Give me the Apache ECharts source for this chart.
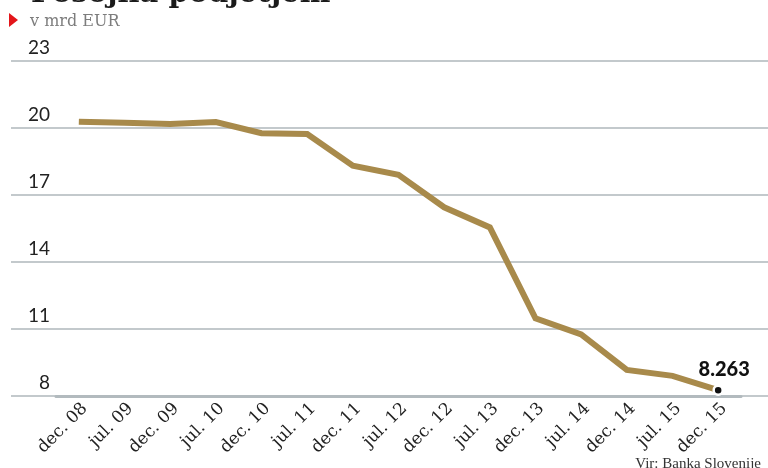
<!DOCTYPE html>
<html>
<head>
<meta charset="utf-8">
<script src="https://cdn.jsdelivr.net/npm/echarts@6/dist/echarts.min.js"></script>
<style>
html,body{margin:0;padding:0;background:#fff;}
#c{width:768px;height:468px;}
</style>
</head>
<body>
<div id="c"></div>
<script>
const categories = ['dec. 08','jul. 09','dec. 09','jul. 10','dec. 10','jul. 11','dec. 11','jul. 12','dec. 12','jul. 13','dec. 13','jul. 14','dec. 14','jul. 15','dec. 15'];
const loans = [20.28, 20.23, 20.18, 20.27, 19.77, 19.73, 18.31, 17.9, 16.45, 15.55, 11.48, 10.76, 9.17, 8.9, 8.263];
const yMin = 8, yMax = 23, yStep = 3;
const titleText = 'Posojila podjetjem';
const subtitleText = 'v mrd EUR';
const sourceText = 'Vir: Banka Slovenije';

const lastIdx = loans.length - 1;
const endPoint = loans.map((v, i) => i === lastIdx ? v : null);

const chart = echarts.init(document.getElementById('c'), null, {renderer: 'canvas'});
chart.setOption({
  animation: false,
  backgroundColor: '#ffffff',
  title: [
    {text: titleText, left: 26, top: -25,
     textStyle: {fontFamily: 'DejaVu Serif', fontWeight: 'bold', fontSize: 29, color: '#1a1a1a'}},
    {text: subtitleText, left: 25, top: 9,
     textStyle: {fontFamily: 'DejaVu Serif', fontWeight: 'normal', fontSize: 16, color: '#7d7d7d'}},
    {text: sourceText, right: 2, top: 452,
     textStyle: {fontFamily: 'Liberation Serif', fontWeight: 'normal', fontSize: 15, color: '#333'}}
  ],
  graphic: [
    {type: 'polygon', shape: {points: [[9, 13], [9, 27], [18, 20]]}, style: {fill: '#e3151a'}}
  ],
  grid: [
    {left: 11, right: 0, top: 61, bottom: 72},
    {left: 56, right: 27, top: 61, bottom: 72}
  ],
  xAxis: [
    {gridIndex: 0, type: 'value', show: false, min: 0, max: 1},
    {gridIndex: 1, type: 'category', data: categories, boundaryGap: true,
     axisLine: {lineStyle: {color: '#b2babe', width: 3}},
     axisTick: {inside: true, alignWithLabel: true, length: 7, lineStyle: {color: '#b2babe', width: 1.5}},
     axisLabel: {rotate: 45, margin: 4, interval: 0, verticalAlign: 'top',
                 fontFamily: 'DejaVu Serif', fontSize: 17, color: '#222'},
     splitLine: {show: false}}
  ],
  yAxis: [
    {gridIndex: 0, type: 'value', min: yMin, max: yMax, interval: yStep,
     axisLine: {show: false}, axisTick: {show: false},
     axisLabel: {inside: true, align: 'right', verticalAlign: 'bottom', margin: 39, padding: [0, 0, 4, 0],
                 fontFamily: 'Lato', fontSize: 19, color: '#222'},
     splitLine: {lineStyle: {color: '#c3c9cc', width: 2}}},
    {gridIndex: 1, type: 'value', min: yMin, max: yMax, interval: yStep, show: false}
  ],
  series: [
    {type: 'line', xAxisIndex: 1, yAxisIndex: 1, data: loans, symbol: 'none',
     lineStyle: {color: '#a88a4b', width: 6, join: 'miter'}, z: 3},
    {type: 'scatter', xAxisIndex: 1, yAxisIndex: 1, data: endPoint, symbol: 'circle', symbolSize: 9,
     itemStyle: {color: '#111', borderColor: '#fff', borderWidth: 2.5, opacity: 1}, z: 5,
     label: {show: true, position: 'top', offset: [6, 0], formatter: p => p.value.toFixed(3),
             fontFamily: 'Lato', fontWeight: 900, fontSize: 20, color: '#111'}}
  ]
});
</script>
</body>
</html>
